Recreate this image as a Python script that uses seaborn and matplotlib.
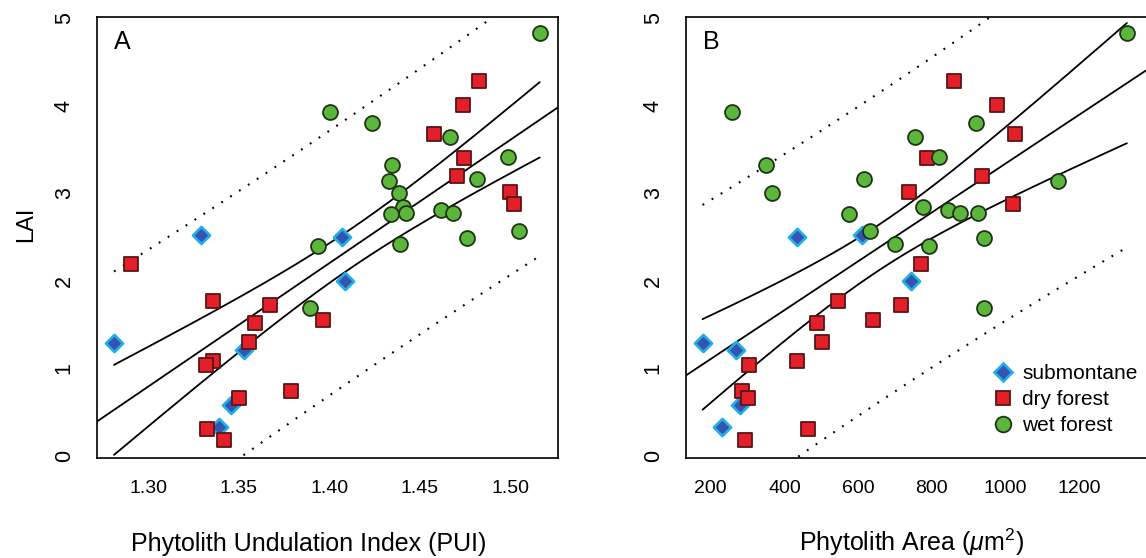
import numpy as np
import pandas as pd
import matplotlib
matplotlib.use("Agg")
import matplotlib.pyplot as plt
from matplotlib.lines import Line2D
import seaborn as sns

# ---------------- data ----------------
sub_lai  = [2.53, 2.50, 2.00, 1.29, 1.21, 0.58, 0.33]
sub_pui  = [1.3291, 1.4073, 1.4087, 1.2810, 1.3527, 1.3459, 1.3393]
sub_area = [611, 435, 744, 178, 268, 280, 232]

dry_lai  = [4.29, 4.01, 3.68, 3.40, 3.20, 3.02, 2.88, 2.19, 1.77, 1.72,
            1.55, 1.52, 1.30, 1.09, 1.04, 0.74, 0.66, 0.31, 0.18]
dry_pui  = [1.4829, 1.4740, 1.4578, 1.4746, 1.4704, 1.5000, 1.5020, 1.2902,
            1.3357, 1.3671, 1.3966, 1.3588, 1.3555, 1.3357, 1.3321, 1.3787,
            1.3501, 1.3322, 1.3420]
dry_area = [860, 977, 1025, 786, 935, 738, 1019, 770, 545, 717,
            641, 489, 501, 435, 305, 284, 300, 465, 294]

wet_lai  = [4.83, 3.93, 3.80, 3.65, 3.42, 3.33, 3.17, 3.14, 3.00, 2.84,
            2.81, 2.78, 2.78, 2.76, 2.57, 2.49, 2.42, 2.40, 1.69]
wet_pui  = [1.5164, 1.4003, 1.4237, 1.4667, 1.4986, 1.4348, 1.4818, 1.4331,
            1.4386, 1.4408, 1.4620, 1.4427, 1.4685, 1.4340, 1.5050, 1.4762,
            1.4394, 1.3940, 1.3892]
wet_area = [1329, 258, 920, 754, 820, 349, 617, 1142, 366, 775,
            845, 876, 924, 576, 632, 942, 700, 793, 942]

groups = ["submontane", "dry forest", "wet forest"]
pui_ticks = [1.30, 1.35, 1.40, 1.45, 1.50]
pui_ticklabels = ["1.30", "1.35", "1.40", "1.45", "1.50"]
area_ticks = [200, 400, 600, 800, 1000, 1200]
lai_ticks = [0, 1, 2, 3, 4, 5]

df = pd.DataFrame({
    "group": ["submontane"] * len(sub_lai) + ["dry forest"] * len(dry_lai) + ["wet forest"] * len(wet_lai),
    "PUI": sub_pui + dry_pui + wet_pui,
    "Area": sub_area + dry_area + wet_area,
    "LAI": sub_lai + dry_lai + wet_lai,
})

# ---------------- style ----------------
sns.set_style("white")
plt.rcParams["font.family"] = ["Liberation Sans", "DejaVu Sans"]
plt.rcParams["mathtext.fontset"] = "custom"
plt.rcParams["mathtext.rm"] = "Liberation Sans"
plt.rcParams["mathtext.it"] = "Liberation Sans:italic"
for k in ["text.color", "axes.labelcolor", "xtick.color", "ytick.color", "axes.edgecolor"]:
    plt.rcParams[k] = "black"

styles = {
    "submontane": dict(marker="D", s=76, color="#3554b0", edgecolor="#22aee6", linewidth=1.9),
    "dry forest": dict(marker="s", s=92, color="#e3202a", edgecolor="#5a1414", linewidth=1.3),
    "wet forest": dict(marker="o", s=115, color="#5cb63c", edgecolor="#1d3515", linewidth=1.3),
}

T975 = 2.0167  # t quantile, df = n - 2 = 43


def fit_lines(x, y, xs):
    x = np.asarray(x, float)
    y = np.asarray(y, float)
    n = len(x)
    b1, b0 = np.polyfit(x, y, 1)
    resid = y - (b0 + b1 * x)
    s = np.sqrt(np.sum(resid ** 2) / (n - 2))
    xm = x.mean()
    sxx = np.sum((x - xm) ** 2)
    yhat = b0 + b1 * xs
    se_m = s * np.sqrt(1.0 / n + (xs - xm) ** 2 / sxx)
    se_p = s * np.sqrt(1.0 + 1.0 / n + (xs - xm) ** 2 / sxx)
    return b0, b1, yhat, T975 * se_m, T975 * se_p


W, H = 1146, 558
fig = plt.figure(figsize=(W / 100, H / 100), dpi=100)
ax_w = 461 / W
ax_h = 441 / H
bottom = 1 - 457.7 / H
axA = fig.add_axes([97 / W, bottom, ax_w, ax_h])
axB = fig.add_axes([686 / W, bottom, ax_w, ax_h])

panels = [
    (axA, "PUI", (1.2716, 1.5265), pui_ticks, pui_ticklabels, "A",
     "Phytolith Undulation Index (PUI)", 0.459),
    (axB, "Area", (133, 1383.6), area_ticks, [str(t) for t in area_ticks], "B",
     r"Phytolith Area ($\mu$m$^{2}$)", 0.490),
]

dot = (0, (0.9, 4.2))
for ax, col, xlim, xt, xtl, letter, xlabel, xlab_x in panels:
    x = df[col].values
    y = df["LAI"].values
    xs = np.linspace(x.min(), x.max(), 200)
    xfull = np.linspace(xlim[0], xlim[1], 50)
    b0, b1, yhat, ci, pi = fit_lines(x, y, xs)
    ax.plot(xfull, b0 + b1 * xfull, color="black", lw=1.3, zorder=2)
    ax.plot(xs, yhat + ci, color="black", lw=1.3, zorder=2)
    ax.plot(xs, yhat - ci, color="black", lw=1.3, zorder=2)
    ax.plot(xs, yhat + pi, color="black", lw=1.5, ls=dot, zorder=2)
    ax.plot(xs, yhat - pi, color="black", lw=1.5, ls=dot, zorder=2)

    for g in groups:
        sub = df[df["group"] == g]
        sns.scatterplot(data=sub, x=col, y="LAI", ax=ax, label=g, zorder=3,
                        legend=False, **styles[g])

    ax.set_xlim(*xlim)
    ax.set_ylim(-0.02, 5.02)
    ax.set_xticks(xt)
    ax.set_xticklabels(xtl, fontsize=14)
    ax.set_yticks(lai_ticks)
    ax.set_yticklabels([str(v) for v in lai_ticks], fontsize=15.5,
                       rotation=90, va="center")
    ax.tick_params(axis="both", direction="out", length=8, width=1.0,
                   color="black", labelcolor="black")
    ax.tick_params(axis="x", pad=8)
    ax.tick_params(axis="y", pad=8)
    for sp in ax.spines.values():
        sp.set_visible(True)
        sp.set_color("black")
        sp.set_linewidth(1.2)
    ax.set_xlabel(xlabel, fontsize=18, va="baseline")
    ax.xaxis.set_label_coords(xlab_x, -0.2116)
    ax.set_ylabel("")
    ax.text(0.054, 0.943, letter, transform=ax.transAxes, fontsize=18,
            ha="center", va="center")

axA.set_ylabel("LAI", fontsize=17)
axA.yaxis.set_label_coords(-0.130, 0.53)

handles = []
for g in groups:
    st = styles[g]
    handles.append(Line2D([], [], ls="none", marker=st["marker"],
                          markersize=np.sqrt(st["s"]) * 1.05,
                          markerfacecolor=st["color"], markeredgecolor=st["edgecolor"],
                          markeredgewidth=st["linewidth"], label=g))
axB.legend(handles=handles, loc="upper left", bbox_to_anchor=(0.664, 0.212),
           frameon=False, fontsize=15, borderpad=0, borderaxespad=0,
           handlelength=1.0, handletextpad=0.45, labelspacing=0.33)

fig.savefig("out.png", dpi=100)
